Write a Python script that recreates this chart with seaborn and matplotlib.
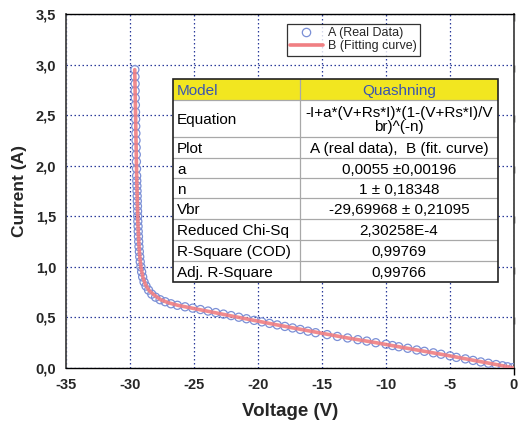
import matplotlib
matplotlib.use("Agg")
import matplotlib.pyplot as plt
from matplotlib.patches import Rectangle
from matplotlib.lines import Line2D
import seaborn as sns
import pandas as pd

# Measured I-V points (reverse bias, current shown as magnitude)
V_data = [-29.62, -29.61, -29.60, -29.60, -29.59, -29.58, -29.57, -29.56, -29.55, -29.54,
          -29.53, -29.52, -29.51, -29.50, -29.49, -29.48, -29.47, -29.46, -29.45, -29.44,
          -29.43, -29.42, -29.41, -29.40, -29.39, -29.37, -29.36, -29.34, -29.32, -29.30,
          -29.27, -29.24, -29.20, -29.15, -29.09, -29.01, -28.90, -28.75, -28.55, -28.30,
          -28.00, -27.65, -27.25, -26.80, -26.30, -25.70, -25.10, -24.50, -23.90, -23.30,
          -22.70, -22.10, -21.50, -20.90, -20.30, -19.70, -19.10, -18.50, -17.90, -17.30,
          -16.70, -16.10, -15.50, -14.60, -13.80, -13.00, -12.20, -11.50, -10.80, -10.00,
          -9.50, -9.00, -8.30, -7.60, -7.00, -6.30, -5.70, -5.00, -4.50, -3.80,
          -3.20, -2.60, -2.00, -1.40, -0.90, -0.50, -0.10]
I_data = [2.95, 2.88, 2.81, 2.74, 2.67, 2.60, 2.53, 2.46, 2.39, 2.32,
          2.25, 2.18, 2.11, 2.04, 1.97, 1.90, 1.85, 1.80, 1.75, 1.70,
          1.65, 1.60, 1.55, 1.50, 1.45, 1.40, 1.35, 1.30, 1.25, 1.20,
          1.15, 1.10, 1.05, 1.00, 0.95, 0.90, 0.85, 0.81, 0.77, 0.73,
          0.70, 0.675, 0.655, 0.635, 0.62, 0.605, 0.592, 0.578, 0.563, 0.548,
          0.533, 0.518, 0.502, 0.487, 0.471, 0.456, 0.441, 0.426, 0.411, 0.396,
          0.381, 0.364, 0.349, 0.33, 0.312, 0.297, 0.28, 0.266, 0.25, 0.235,
          0.222, 0.21, 0.195, 0.178, 0.165, 0.15, 0.136, 0.12, 0.105, 0.09,
          0.075, 0.06, 0.047, 0.034, 0.022, 0.012, 0.003]

# Fitted model curve
V_fit = [-29.63, -29.58, -29.53, -29.48, -29.43, -29.38, -29.32, -29.25, -29.15, -29.00,
         -28.80, -28.50, -28.10, -27.60, -27.00, -26.20, -25.20, -24.00, -22.50, -21.00,
         -19.00, -17.00, -15.00, -13.00, -11.00, -9.00, -7.00, -5.00, -3.00, -1.00, 0.00]
I_fit = [2.95, 2.60, 2.25, 1.90, 1.65, 1.42, 1.25, 1.12, 1.00, 0.90,
         0.825, 0.765, 0.72, 0.675, 0.645, 0.618, 0.593, 0.563, 0.525, 0.488,
         0.438, 0.39, 0.343, 0.297, 0.255, 0.21, 0.165, 0.12, 0.072, 0.025, 0.0]

x_ticks = [-35, -30, -25, -20, -15, -10, -5, 0]
y_ticks = [0.0, 0.5, 1.0, 1.5, 2.0, 2.5, 3.0, 3.5]
y_tick_labels = ["0,0", "0,5", "1,0", "1,5", "2,0", "2,5", "3,0", "3,5"]

table_rows = [
    ("Model", "Quashning"),
    ("Equation", "-I+a*(V+Rs*I)*(1-(V+Rs*I)/V\nbr)^(-n)"),
    ("Plot", "A (real data),  B (fit. curve)"),
    ("a", "0,0055 \u00b10,00196"),
    ("n", "1 \u00b1 0,18348"),
    ("Vbr", "-29,69968 \u00b1 0,21095"),
    ("Reduced Chi-Sq", "2,30258E-4"),
    ("R-Square (COD)", "0,99769"),
    ("Adj. R-Square", "0,99766"),
]

sns.set_style("white")
plt.rcParams["font.family"] = ["Liberation Sans", "DejaVu Sans"]

W, H = 519, 426
fig = plt.figure(figsize=(W / 100, H / 100), dpi=100)
ax = fig.add_axes([66 / W, 1 - 368 / H, 448 / W, 354 / H])

data_df = pd.DataFrame({"V": V_data, "I": I_data})
fit_df = pd.DataFrame({"V": V_fit, "I": I_fit})

sns.scatterplot(data=data_df, x="V", y="I", ax=ax, s=34, marker="o",
                facecolors="none", edgecolor="#7a8fd6", linewidth=0.9, zorder=3,
                legend=False)
sns.lineplot(data=fit_df, x="V", y="I", ax=ax, sort=False, color="#f07f82",
             linewidth=2.6, alpha=0.9, zorder=4, legend=False)

ax.set_xlim(-35, 0)
ax.set_ylim(0, 3.5)
ax.set_xticks(x_ticks)
ax.set_xticklabels([str(t) for t in x_ticks])
ax.set_yticks(y_ticks)
ax.set_yticklabels(y_tick_labels)

ax.grid(True, color="#2a3a9a", linestyle=(0, (1.2, 2.0)), linewidth=0.9)
ax.set_axisbelow(True)

for side in ["top", "bottom"]:
    ax.spines[side].set_color("black")
    ax.spines[side].set_linewidth(1.0)
for side in ["left", "right"]:
    ax.spines[side].set_color("#444444")
    ax.spines[side].set_linewidth(1.3)

ax.tick_params(axis="both", which="major", direction="out", length=5, width=1,
               color="black", labelsize=10.5, pad=2)
ax.tick_params(axis="y", right=True, labelright=False)
ax.yaxis.set_tick_params(which="major", right=True)
for lab in ax.get_xticklabels() + ax.get_yticklabels():
    lab.set_fontweight("bold")
for tk in ax.yaxis.get_major_ticks():
    tk.tick2line.set_marker(3)  # inward-pointing ticks on the right spine

ax.set_xlabel("Voltage (V)", fontsize=13.5, fontweight="bold", labelpad=8)
ax.set_ylabel("Current (A)", fontsize=12.5, fontweight="bold", labelpad=6)

# Legend
handles = [
    Line2D([], [], linestyle="none", marker="o", markersize=6, markerfacecolor="none",
           markeredgecolor="#7a8fd6", markeredgewidth=0.9),
    Line2D([], [], color="#f07f82", linewidth=2.6),
]
leg = fig.legend(handles, ["A (Real Data)", "B (Fitting curve)"],
                 loc="upper left", bbox_to_anchor=(287 / W, 1 - 24 / H),
                 frameon=True, fancybox=False, fontsize=9, handlelength=2.6,
                 handletextpad=0.4, borderpad=0.25, labelspacing=0.1,
                 borderaxespad=0)
leg.get_frame().set_edgecolor("black")
leg.get_frame().set_linewidth(0.9)

# Fit results table
tx0, tx1, ty0, ty1 = 173, 498, 79, 282
col_split = 300
row_edges = [79, 100, 137, 158, 178, 198, 219, 240, 261, 282]
tab = fig.add_axes([tx0 / W, 1 - ty1 / H, (tx1 - tx0) / W, (ty1 - ty0) / H])
tab.set_xlim(tx0, tx1)
tab.set_ylim(ty1, ty0)
tab.axis("off")
tab.add_patch(Rectangle((tx0, ty0), tx1 - tx0, ty1 - ty0, facecolor="white",
                        edgecolor="none", zorder=0))
tab.add_patch(Rectangle((tx0, row_edges[0]), tx1 - tx0, row_edges[1] - row_edges[0],
                        facecolor="#f2e620", edgecolor="none", zorder=1))
for y in row_edges[1:-1]:
    tab.plot([tx0, tx1], [y, y], color="#a8a8a8", linewidth=0.9, zorder=2)
tab.plot([col_split, col_split], [ty0, ty1], color="#a8a8a8", linewidth=0.9, zorder=2)
tab.add_patch(Rectangle((tx0, ty0), tx1 - tx0, ty1 - ty0, facecolor="none",
                        edgecolor="#222222", linewidth=1.2, zorder=3,
                        clip_on=False))

for i, (name, value) in enumerate(table_rows):
    yc = (row_edges[i] + row_edges[i + 1]) / 2
    color = "#3a55b0" if i == 0 else "black"
    tab.text(tx0 + 4, yc, name, ha="left", va="center_baseline", fontsize=11,
             color=color, zorder=4)
    tab.text((col_split + tx1) / 2, yc, value, ha="center", va="center_baseline",
             fontsize=11, color=color, linespacing=1.0, zorder=4)

fig.savefig("out.png", dpi=100)
